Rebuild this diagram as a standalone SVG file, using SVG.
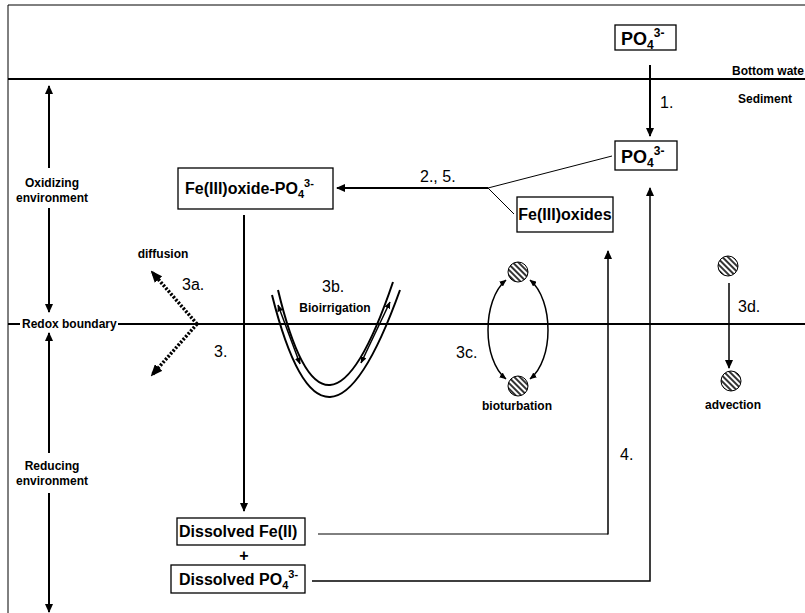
<svg xmlns="http://www.w3.org/2000/svg" width="805" height="613" viewBox="0 0 805 613">
<style>
.lbl{font-family:"Liberation Sans",Arial,sans-serif;font-weight:bold;font-size:12px;fill:#000}
.box{font-family:"Liberation Sans",Arial,sans-serif;font-weight:bold;font-size:16px;fill:#000}
.po{font-family:"Liberation Sans",Arial,sans-serif;font-weight:bold;font-size:18px;fill:#000}
.num{font-family:"Liberation Sans",Arial,sans-serif;font-size:16px;fill:#000}
.rect{fill:#fff;stroke:#000;stroke-width:1.3}
.thin{fill:none;stroke:#000;stroke-width:1}
.mid{fill:none;stroke:#000;stroke-width:1.5}
.thick{fill:none;stroke:#000;stroke-width:2}
.dot{fill:none;stroke:#000;stroke-width:3.5;stroke-dasharray:2.2 1.6}
.hatch{fill:url(#hatch);stroke:#000;stroke-width:1}
</style>
<defs>
<marker id="ah" markerUnits="userSpaceOnUse" markerWidth="9" markerHeight="8" refX="8" refY="4" orient="auto-start-reverse"><path d="M0,0 L9,4 L0,8 z" fill="#000"/></marker>
<marker id="ahs" markerUnits="userSpaceOnUse" markerWidth="7" markerHeight="6" refX="6.5" refY="3" orient="auto-start-reverse"><path d="M0,0 L7,3 L0,6 z" fill="#000"/></marker>
<marker id="ahb" markerUnits="userSpaceOnUse" markerWidth="12" markerHeight="10" refX="10" refY="5" orient="auto-start-reverse"><path d="M0,0 L12,5 L0,10 z" fill="#000"/></marker>
<pattern id="hatch" patternUnits="userSpaceOnUse" width="4" height="4" patternTransform="rotate(-45)"><rect width="4" height="4" fill="#fff"/><line x1="1" y1="0" x2="1" y2="4" stroke="#000" stroke-width="1.6"/></pattern>
</defs>

<g id="frame">
<line x1="8" y1="5" x2="805" y2="5" class="thin"/>
<line x1="8" y1="5" x2="8" y2="613" class="thin"/>
<line x1="8" y1="79" x2="805" y2="79" class="thick"/>
<line x1="8" y1="324" x2="20" y2="324" class="thick"/>
<line x1="118" y1="324" x2="805" y2="324" class="thick"/>
<text class="lbl" x="732" y="75">Bottom wate</text>
<text class="lbl" x="738" y="103">Sediment</text>
<text class="lbl" x="22" y="328">Redox boundary</text>
</g>

<g id="oxidizing">
<line x1="49" y1="168" x2="49" y2="86" class="thick" marker-end="url(#ah)"/>
<line x1="49" y1="208" x2="49" y2="312" class="thick" marker-end="url(#ah)"/>
<text class="lbl" x="52" y="187" text-anchor="middle">Oxidizing</text>
<text class="lbl" x="52" y="202" text-anchor="middle">environment</text>
</g>

<g id="reducing">
<line x1="49" y1="453" x2="49" y2="333" class="thick" marker-end="url(#ah)"/>
<line x1="49" y1="493" x2="49" y2="612" class="thick" marker-end="url(#ah)"/>
<text class="lbl" x="52" y="470" text-anchor="middle">Reducing</text>
<text class="lbl" x="52" y="485" text-anchor="middle">environment</text>
</g>

<g id="connectors">
<line x1="650" y1="65" x2="650" y2="136" class="thick" marker-end="url(#ah)"/>
<line x1="488" y1="188" x2="337" y2="188" class="thick" marker-end="url(#ah)"/>
<line x1="488" y1="188" x2="612" y2="156" class="thin"/>
<line x1="488" y1="188" x2="514" y2="214" class="thin"/>
<line x1="244" y1="215" x2="244" y2="511" class="thick" marker-end="url(#ah)"/>
<polyline points="318,534 608,534" class="thin"/>
<line x1="608" y1="534.5" x2="608" y2="251" class="mid" marker-end="url(#ah)"/>
<polyline points="312,581 650,581 650,188" class="mid" marker-end="url(#ah)"/>
<line x1="197" y1="324" x2="152" y2="272" class="dot" marker-end="url(#ahb)"/>
<line x1="197" y1="324" x2="152" y2="375" class="dot" marker-end="url(#ahb)"/>
<line x1="729" y1="283" x2="729" y2="368" class="mid" marker-end="url(#ah)"/>
</g>

<g id="po4-top">
<rect x="615" y="25" width="61" height="25" class="rect"/>
<text class="po" x="621" y="45">PO<tspan font-size="12" dy="4">4</tspan><tspan font-size="12" dy="-12">3-</tspan></text>
</g>

<g id="po4-sed">
<rect x="615" y="141" width="62" height="29" class="rect"/>
<text class="po" x="621" y="163">PO<tspan font-size="12" dy="4">4</tspan><tspan font-size="12" dy="-12">3-</tspan></text>
</g>

<g id="feoxide-po4">
<rect x="178" y="168" width="155" height="41" class="rect"/>
<text class="box" x="185" y="194">Fe(III)oxide-PO<tspan font-size="11" dy="4">4</tspan><tspan font-size="11" dy="-11">3-</tspan></text>
</g>

<g id="feoxides">
<rect x="517" y="197" width="96" height="35" class="rect"/>
<text class="box" x="565" y="220" text-anchor="middle" font-size="15">Fe(III)oxides</text>
</g>

<g id="dissolved-fe">
<rect x="177" y="518" width="128" height="27" class="rect"/>
<text class="box" x="179" y="537">Dissolved Fe(II)</text>
</g>

<g id="plus">
<text class="box" x="244" y="561" text-anchor="middle" font-size="18">+</text>
</g>

<g id="dissolved-po4">
<rect x="171" y="565" width="134" height="28" class="rect"/>
<text class="box" x="179" y="585">Dissolved PO<tspan font-size="11" dy="4">4</tspan><tspan font-size="11" dy="-11">3-</tspan></text>
</g>

<g id="labels">
<text class="num" x="660" y="108">1.</text>
<text class="num" x="420" y="182">2., 5.</text>
<text class="num" x="214" y="357">3.</text>
<text class="num" x="182" y="290">3a.</text>
<text class="num" x="322" y="292">3b.</text>
<text class="num" x="456" y="358">3c.</text>
<text class="num" x="738" y="312">3d.</text>
<text class="num" x="620" y="460">4.</text>
<text class="lbl" x="163" y="258" text-anchor="middle">diffusion</text>
<text class="lbl" x="335" y="312" text-anchor="middle">Bioirrigation</text>
<text class="lbl" x="517" y="410" text-anchor="middle">bioturbation</text>
<text class="lbl" x="733" y="409" text-anchor="middle">advection</text>
</g>

<g id="bioirrigation">
<path d="M278,290 Q324.5,484 393,282" class="thick"/>
<path d="M272,295 Q324,501.5 400,290" class="thick"/>
<line x1="278" y1="305" x2="300" y2="364" class="mid" marker-start="url(#ahs)" marker-end="url(#ahs)"/>
<line x1="390" y1="302" x2="361" y2="363" class="mid" marker-start="url(#ahs)" marker-end="url(#ahs)"/>
</g>

<g id="bioturbation">
<circle cx="518" cy="272" r="10" class="hatch"/>
<circle cx="518" cy="386" r="10" class="hatch"/>
<path d="M506,280 C482,300 482,360 506,379" class="mid" marker-start="url(#ahs)" marker-end="url(#ahs)"/>
<path d="M530,280 C554,300 554,360 530,379" class="mid" marker-start="url(#ahs)" marker-end="url(#ahs)"/>
</g>

<g id="advection">
<circle cx="728" cy="266" r="10" class="hatch"/>
<circle cx="731" cy="381" r="10" class="hatch"/>
</g>
</svg>
